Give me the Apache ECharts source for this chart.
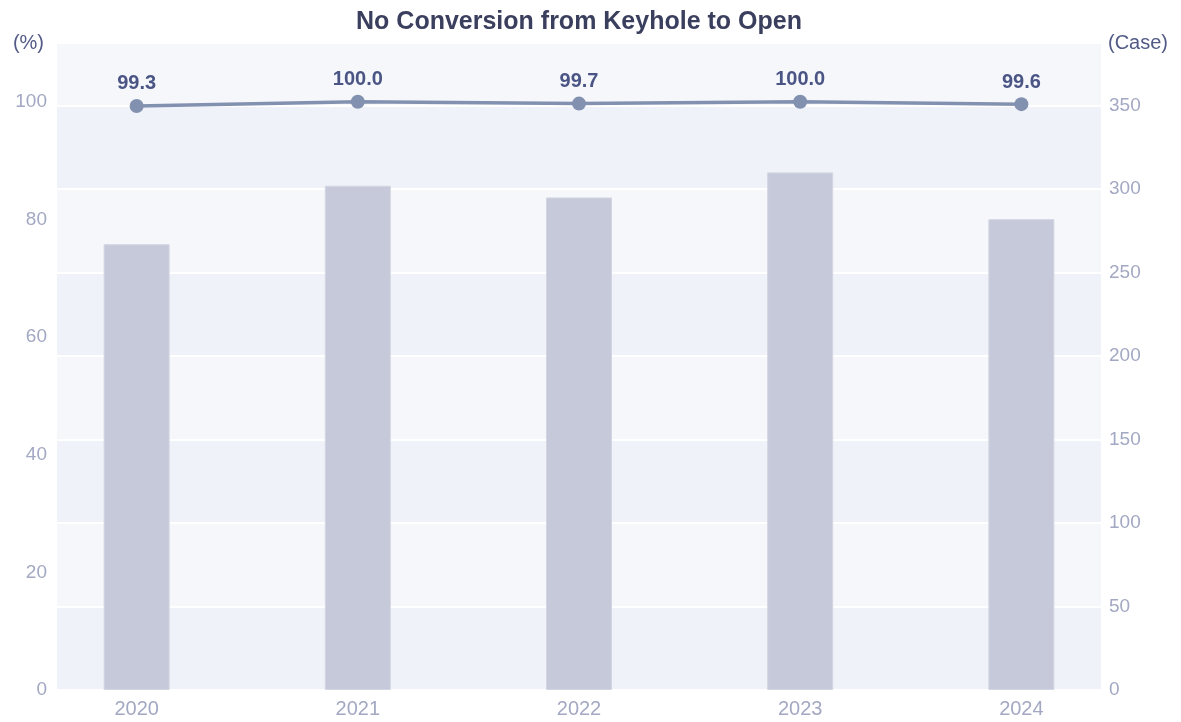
<!DOCTYPE html>
<html>
<head>
<meta charset="utf-8">
<script src="https://cdn.jsdelivr.net/npm/echarts@6/dist/echarts.min.js"></script>
<style>
html,body{margin:0;padding:0;background:#ffffff;}
#chart{width:1181px;height:722px;}
</style>
</head>
<body>
<div id="chart"></div>
<script>
const categories = ['2020', '2021', '2022', '2023', '2024'];
const caseCounts = [267, 302, 295, 310, 282];
const noConversionRate = [99.3, 100.0, 99.7, 100.0, 99.6];
const titleText = 'No Conversion from Keyhole to Open';
const leftAxisName = '(%)';
const rightAxisName = '(Case)';

const chart = echarts.init(document.getElementById('chart'), null, {renderer: 'canvas'});
const fontFamily = '"Liberation Sans", Arial, Helvetica, sans-serif';
const catIdx = categories.map(function (c, i) { return i; });
const barData = caseCounts.map(function (v, i) { return [i, v]; });
const lineData = noConversionRate.map(function (v, i) { return [i, v]; });

const option = {
  backgroundColor: '#ffffff',
  textStyle: {fontFamily: fontFamily},
  title: {
    text: titleText,
    left: 574,
    textAlign: 'center',
    top: 5,
    textStyle: {fontFamily: fontFamily, fontSize: 25, fontWeight: 'bold', color: '#3b3f5e'}
  },
  grid: {left: 57, right: 80, top: 43, bottom: 32, containLabel: false},
  xAxis: {
    type: 'value',
    min: -0.36,
    max: 4.36,
    axisLine: {show: false, onZero: false},
    axisTick: {show: false},
    axisLabel: {
      color: '#a3a8c3', fontSize: 20, margin: 9, fontFamily: fontFamily,
      customValues: catIdx,
      formatter: function (v) { return categories[Math.round(v)] || ''; }
    },
    splitLine: {show: false}
  },
  yAxis: [
    {
      type: 'value',
      position: 'left',
      min: 0,
      max: 110,
      interval: 20,
      name: leftAxisName,
      nameLocation: 'end',
      nameGap: 0,
      nameTextStyle: {color: '#525a85', fontSize: 20, align: 'right', verticalAlign: 'middle', padding: [0, 13, 0, 0], fontFamily: fontFamily},
      axisLine: {show: false, onZero: false},
      axisTick: {show: false},
      axisLabel: {
        color: '#a3a8c3', fontSize: 19, margin: 10, fontFamily: fontFamily,
        formatter: function (v) { return v > 100 ? '' : String(v); }
      },
      splitLine: {show: false},
      splitArea: {show: false}
    },
    {
      type: 'value',
      position: 'right',
      min: 0,
      max: 387.5,
      interval: 50,
      name: rightAxisName,
      nameLocation: 'end',
      nameGap: 0,
      nameTextStyle: {color: '#525a85', fontSize: 20, align: 'left', verticalAlign: 'middle', padding: [0, 0, 0, 7], fontFamily: fontFamily},
      axisLine: {show: false, onZero: false},
      axisTick: {show: false},
      axisLabel: {
        color: '#a3a8c3', fontSize: 19, margin: 8, fontFamily: fontFamily,
        formatter: function (v) { return v > 350 ? '' : String(v); }
      },
      splitLine: {show: true, lineStyle: {color: '#ffffff', width: 2}},
      splitArea: {show: true, areaStyle: {color: ['#eff2f8', '#f6f7fb']}}
    }
  ],
  series: [
    {
      name: 'Case',
      type: 'bar',
      yAxisIndex: 1,
      data: barData,
      barWidth: 66,
      itemStyle: {color: '#c5c9d9', borderColor: '#d3d6e2', borderWidth: 1},
      z: 2
    },
    {
      name: 'Rate',
      type: 'line',
      yAxisIndex: 0,
      data: lineData,
      symbol: 'circle',
      symbolSize: 14,
      lineStyle: {color: '#8391b0', width: 3.5},
      itemStyle: {color: '#8391b0'},
      label: {
        show: true,
        position: 'top',
        distance: 5,
        color: '#4b5585',
        fontSize: 20,
        fontWeight: 'bold',
        fontFamily: fontFamily,
        formatter: function (p) { return p.value[1].toFixed(1); }
      },
      z: 5
    }
  ]
};
chart.setOption(option);
</script>
</body>
</html>
